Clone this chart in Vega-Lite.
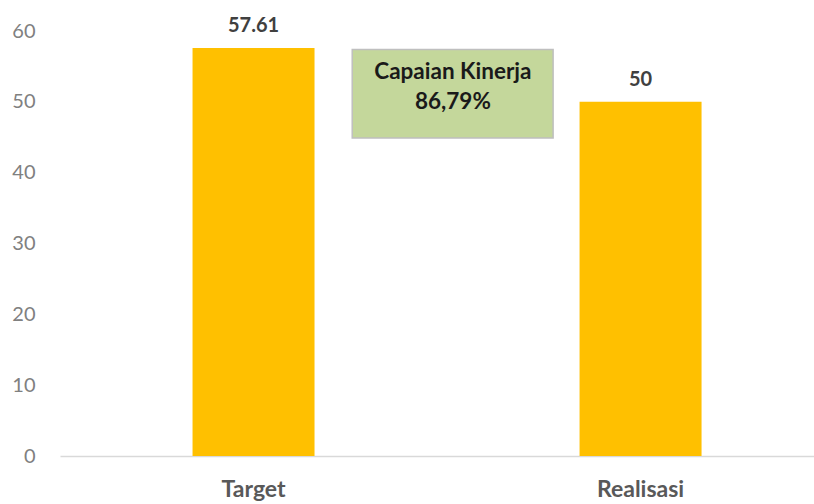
{
  "$schema": "https://vega.github.io/schema/vega-lite/v6.json",
  "width": 754,
  "height": 425,
  "autosize": {"type": "none"},
  "padding": {"left": 60, "top": 31, "right": 0, "bottom": 48},
  "background": "white",
  "config": {"view": {"stroke": null}, "font": "Lato"},
  "layer": [
    {
      "data": {"values": [
        {"kategori": "Target", "nilai": 57.61, "label": "57.61"},
        {"kategori": "Realisasi", "nilai": 50, "label": "50"}
      ]},
      "encoding": {
        "x": {
          "field": "kategori", "type": "nominal", "sort": null,
          "scale": {"paddingInner": 0.6848, "paddingOuter": 0.3165, "align": 0.541},
          "axis": {"title": null, "labelAngle": 0, "labelFont": "Lato", "labelFontSize": 23, "labelFontWeight": "bold", "labelColor": "#595959", "ticks": false, "domainColor": "#d9d9d9", "domainWidth": 1.5, "labelPadding": 22}
        },
        "y": {
          "field": "nilai", "type": "quantitative",
          "scale": {"domain": [0, 60]},
          "axis": {"title": null, "values": [0, 10, 20, 30, 40, 50, 60], "grid": false, "domain": false, "ticks": false, "labelFont": "Lato", "labelFontSize": 20, "labelColor": "#808080", "labelPadding": 25}
        }
      },
      "layer": [
        {"mark": {"type": "bar", "color": "#FFC000"}},
        {"mark": {"type": "text", "dy": -22, "font": "Lato", "fontSize": 20, "fontWeight": "bold", "color": "#404040"}, "encoding": {"text": {"field": "label"}}}
      ]
    },
    {
      "data": {"values": [
        {"x1": 1.255, "x2": 1.774, "y1": 44.9, "y2": 57.4, "xm": 1.515, "ym": 54.26, "teks": ["Capaian Kinerja", "86,79%"]}
      ]},
      "layer": [
        {
          "mark": {"type": "rect", "fill": "#C4D79B", "stroke": "#BFBFBF", "strokeWidth": 1.5},
          "encoding": {
            "x": {"field": "x1", "type": "quantitative", "scale": {"domain": [0.5, 2.448]}, "axis": null},
            "x2": {"field": "x2"},
            "y": {"field": "y1", "type": "quantitative"},
            "y2": {"field": "y2"}
          }
        },
        {
          "mark": {"type": "text", "font": "Lato", "fontSize": 22.5, "fontWeight": "bold", "color": "#1a1a1a", "lineHeight": 30, "baseline": "middle"},
          "encoding": {
            "x": {"field": "xm", "type": "quantitative", "scale": {"domain": [0.5, 2.448]}, "axis": null},
            "y": {"field": "ym", "type": "quantitative"},
            "text": {"field": "teks"}
          }
        }
      ]
    }
  ],
  "resolve": {"scale": {"x": "independent"}, "axis": {"x": "independent"}}
}
